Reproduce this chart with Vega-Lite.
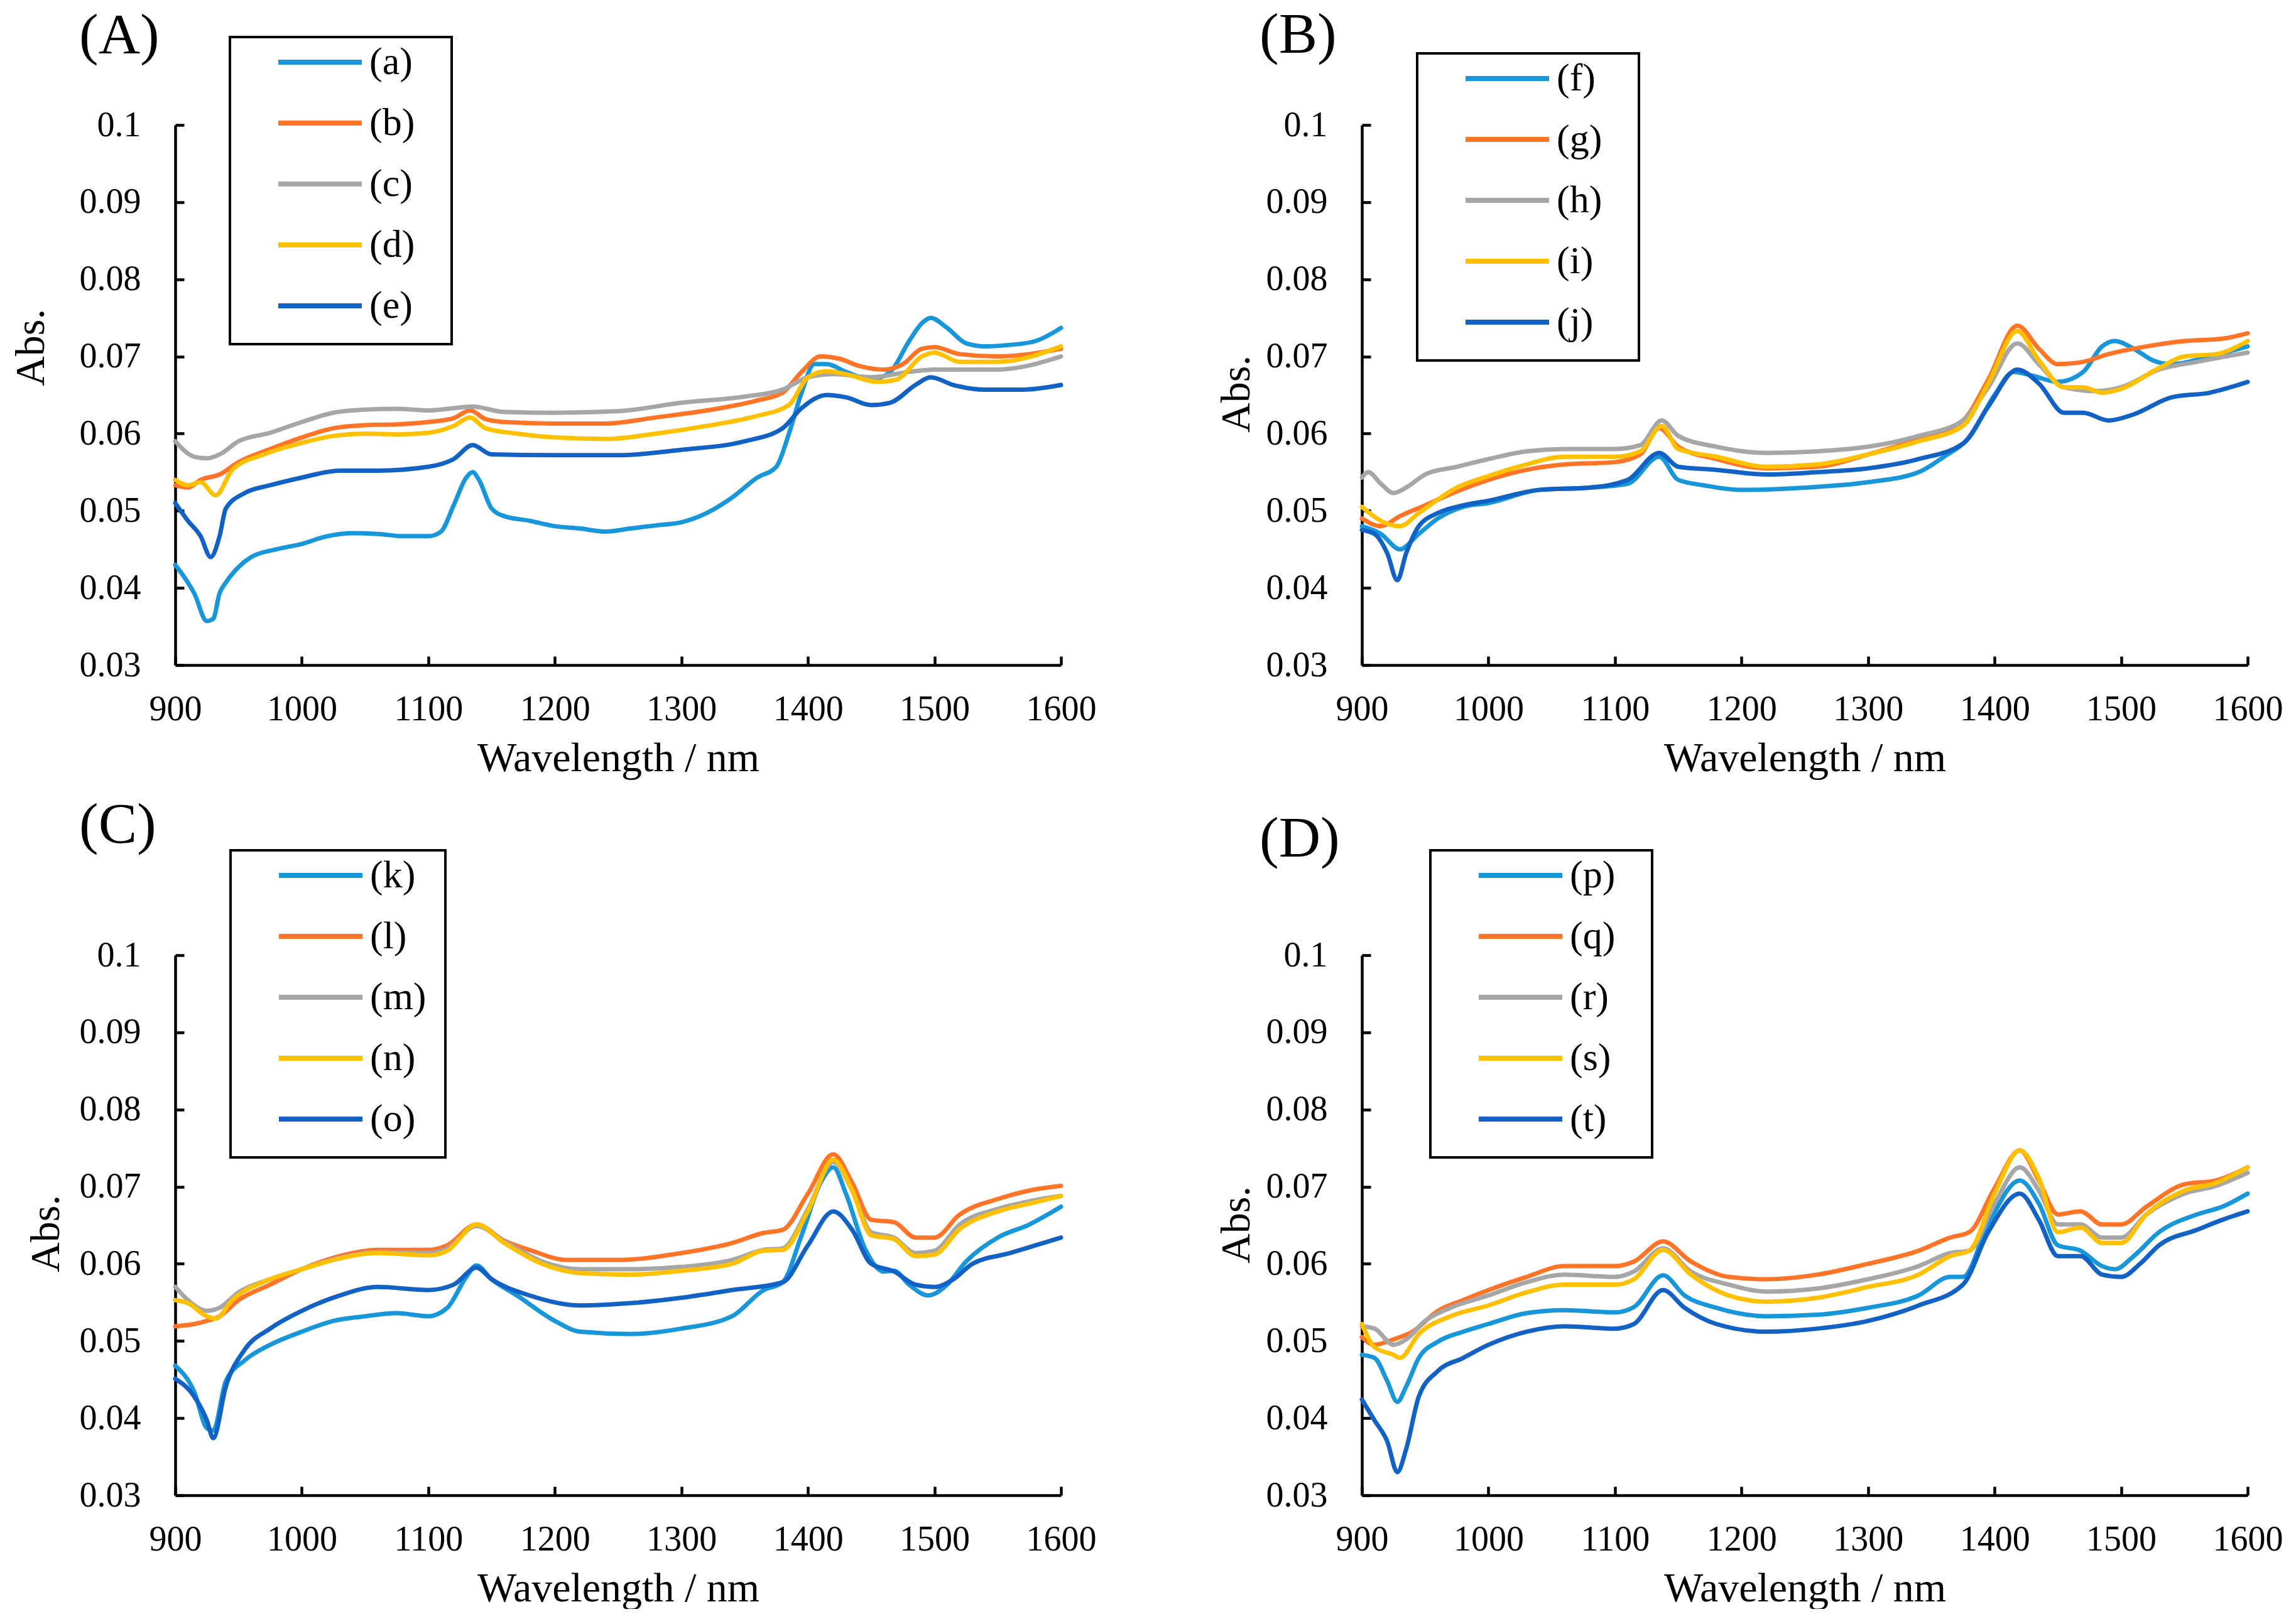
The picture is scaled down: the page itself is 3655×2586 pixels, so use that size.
{
"$schema":"https://vega.github.io/schema/vega-lite/v6.json",
"background":"white",
"padding":{"left":16,"top":10,"right":0,"bottom":0},
"autosize":{"type":"pad"},
"columns":2,
"spacing":{"row":462,"column":479},
"bounds":"flush",
"resolve":{"scale":{"color":"independent","x":"independent","y":"independent"},"legend":{"color":"independent"}},
"datasets":{
"A":[
{"s":"(a)","w":900,"v":0.043},{"s":"(a)","w":915,"v":0.0393},{"s":"(a)","w":925,"v":0.0357},{"s":"(a)","w":930,"v":0.036},{"s":"(a)","w":935,"v":0.0393},{"s":"(a)","w":940,"v":0.0407},{"s":"(a)","w":950,"v":0.0427},{"s":"(a)","w":960,"v":0.044},{"s":"(a)","w":980,"v":0.045},{"s":"(a)","w":1000,"v":0.0457},{"s":"(a)","w":1020,"v":0.0467},{"s":"(a)","w":1040,"v":0.0471},{"s":"(a)","w":1060,"v":0.047},{"s":"(a)","w":1080,"v":0.0467},{"s":"(a)","w":1100,"v":0.0467},{"s":"(a)","w":1110,"v":0.0473},{"s":"(a)","w":1120,"v":0.0507},{"s":"(a)","w":1130,"v":0.0543},{"s":"(a)","w":1135,"v":0.055},{"s":"(a)","w":1140,"v":0.054},{"s":"(a)","w":1150,"v":0.0503},{"s":"(a)","w":1160,"v":0.0493},{"s":"(a)","w":1180,"v":0.0487},{"s":"(a)","w":1200,"v":0.048},{"s":"(a)","w":1220,"v":0.0477},{"s":"(a)","w":1240,"v":0.0473},{"s":"(a)","w":1260,"v":0.0477},{"s":"(a)","w":1280,"v":0.0481},{"s":"(a)","w":1300,"v":0.0485},{"s":"(a)","w":1320,"v":0.0497},{"s":"(a)","w":1340,"v":0.0517},{"s":"(a)","w":1360,"v":0.0543},{"s":"(a)","w":1375,"v":0.0557},{"s":"(a)","w":1385,"v":0.06},{"s":"(a)","w":1395,"v":0.0653},{"s":"(a)","w":1405,"v":0.069},{"s":"(a)","w":1415,"v":0.069},{"s":"(a)","w":1430,"v":0.068},{"s":"(a)","w":1450,"v":0.067},{"s":"(a)","w":1465,"v":0.068},{"s":"(a)","w":1480,"v":0.072},{"s":"(a)","w":1490,"v":0.0743},{"s":"(a)","w":1497,"v":0.075},{"s":"(a)","w":1510,"v":0.0737},{"s":"(a)","w":1525,"v":0.0717},{"s":"(a)","w":1540,"v":0.0713},{"s":"(a)","w":1560,"v":0.0715},{"s":"(a)","w":1580,"v":0.072},{"s":"(a)","w":1600,"v":0.0737},
{"s":"(b)","w":900,"v":0.0533},{"s":"(b)","w":910,"v":0.053},{"s":"(b)","w":920,"v":0.054},{"s":"(b)","w":935,"v":0.0547},{"s":"(b)","w":950,"v":0.0563},{"s":"(b)","w":975,"v":0.058},{"s":"(b)","w":1000,"v":0.0595},{"s":"(b)","w":1025,"v":0.0607},{"s":"(b)","w":1050,"v":0.0611},{"s":"(b)","w":1075,"v":0.0612},{"s":"(b)","w":1100,"v":0.0615},{"s":"(b)","w":1120,"v":0.062},{"s":"(b)","w":1133,"v":0.063},{"s":"(b)","w":1145,"v":0.0619},{"s":"(b)","w":1160,"v":0.0615},{"s":"(b)","w":1200,"v":0.0613},{"s":"(b)","w":1240,"v":0.0613},{"s":"(b)","w":1280,"v":0.0621},{"s":"(b)","w":1320,"v":0.063},{"s":"(b)","w":1360,"v":0.0643},{"s":"(b)","w":1380,"v":0.0653},{"s":"(b)","w":1395,"v":0.068},{"s":"(b)","w":1410,"v":0.07},{"s":"(b)","w":1425,"v":0.0697},{"s":"(b)","w":1440,"v":0.0688},{"s":"(b)","w":1460,"v":0.0683},{"s":"(b)","w":1475,"v":0.069},{"s":"(b)","w":1490,"v":0.071},{"s":"(b)","w":1500,"v":0.0712},{"s":"(b)","w":1520,"v":0.0703},{"s":"(b)","w":1550,"v":0.07},{"s":"(b)","w":1575,"v":0.0703},{"s":"(b)","w":1600,"v":0.071},
{"s":"(c)","w":900,"v":0.059},{"s":"(c)","w":915,"v":0.057},{"s":"(c)","w":925,"v":0.0568},{"s":"(c)","w":935,"v":0.0573},{"s":"(c)","w":950,"v":0.059},{"s":"(c)","w":975,"v":0.0601},{"s":"(c)","w":1000,"v":0.0615},{"s":"(c)","w":1025,"v":0.0627},{"s":"(c)","w":1050,"v":0.0631},{"s":"(c)","w":1075,"v":0.0632},{"s":"(c)","w":1100,"v":0.063},{"s":"(c)","w":1135,"v":0.0635},{"s":"(c)","w":1160,"v":0.0628},{"s":"(c)","w":1200,"v":0.0627},{"s":"(c)","w":1250,"v":0.0629},{"s":"(c)","w":1300,"v":0.064},{"s":"(c)","w":1350,"v":0.0648},{"s":"(c)","w":1380,"v":0.0657},{"s":"(c)","w":1400,"v":0.0673},{"s":"(c)","w":1420,"v":0.0677},{"s":"(c)","w":1450,"v":0.0673},{"s":"(c)","w":1480,"v":0.068},{"s":"(c)","w":1500,"v":0.0683},{"s":"(c)","w":1550,"v":0.0683},{"s":"(c)","w":1600,"v":0.07},
{"s":"(d)","w":900,"v":0.054},{"s":"(d)","w":910,"v":0.0533},{"s":"(d)","w":920,"v":0.0537},{"s":"(d)","w":932,"v":0.052},{"s":"(d)","w":945,"v":0.0553},{"s":"(d)","w":970,"v":0.0573},{"s":"(d)","w":1000,"v":0.0588},{"s":"(d)","w":1025,"v":0.0597},{"s":"(d)","w":1050,"v":0.06},{"s":"(d)","w":1075,"v":0.0599},{"s":"(d)","w":1100,"v":0.0601},{"s":"(d)","w":1120,"v":0.061},{"s":"(d)","w":1133,"v":0.0621},{"s":"(d)","w":1145,"v":0.0607},{"s":"(d)","w":1170,"v":0.06},{"s":"(d)","w":1200,"v":0.0595},{"s":"(d)","w":1240,"v":0.0593},{"s":"(d)","w":1280,"v":0.06},{"s":"(d)","w":1320,"v":0.061},{"s":"(d)","w":1360,"v":0.0623},{"s":"(d)","w":1385,"v":0.0637},{"s":"(d)","w":1400,"v":0.0673},{"s":"(d)","w":1415,"v":0.0681},{"s":"(d)","w":1430,"v":0.0677},{"s":"(d)","w":1455,"v":0.0667},{"s":"(d)","w":1470,"v":0.067},{"s":"(d)","w":1490,"v":0.07},{"s":"(d)","w":1500,"v":0.0705},{"s":"(d)","w":1520,"v":0.0693},{"s":"(d)","w":1550,"v":0.0693},{"s":"(d)","w":1600,"v":0.0713},
{"s":"(e)","w":900,"v":0.051},{"s":"(e)","w":910,"v":0.0487},{"s":"(e)","w":920,"v":0.0467},{"s":"(e)","w":928,"v":0.044},{"s":"(e)","w":935,"v":0.0467},{"s":"(e)","w":940,"v":0.0503},{"s":"(e)","w":955,"v":0.0523},{"s":"(e)","w":975,"v":0.0533},{"s":"(e)","w":1000,"v":0.0543},{"s":"(e)","w":1030,"v":0.0552},{"s":"(e)","w":1060,"v":0.0552},{"s":"(e)","w":1100,"v":0.0557},{"s":"(e)","w":1120,"v":0.0567},{"s":"(e)","w":1135,"v":0.0585},{"s":"(e)","w":1150,"v":0.0573},{"s":"(e)","w":1200,"v":0.0572},{"s":"(e)","w":1250,"v":0.0572},{"s":"(e)","w":1300,"v":0.0579},{"s":"(e)","w":1350,"v":0.059},{"s":"(e)","w":1380,"v":0.0607},{"s":"(e)","w":1395,"v":0.0633},{"s":"(e)","w":1415,"v":0.065},{"s":"(e)","w":1430,"v":0.0647},{"s":"(e)","w":1450,"v":0.0637},{"s":"(e)","w":1465,"v":0.064},{"s":"(e)","w":1485,"v":0.0663},{"s":"(e)","w":1497,"v":0.0673},{"s":"(e)","w":1515,"v":0.0663},{"s":"(e)","w":1540,"v":0.0657},{"s":"(e)","w":1570,"v":0.0657},{"s":"(e)","w":1600,"v":0.0663}
],
"B":[
{"s":"(f)","w":900,"v":0.048},{"s":"(f)","w":915,"v":0.047},{"s":"(f)","w":930,"v":0.045},{"s":"(f)","w":945,"v":0.047},{"s":"(f)","w":960,"v":0.049},{"s":"(f)","w":980,"v":0.0505},{"s":"(f)","w":1000,"v":0.051},{"s":"(f)","w":1040,"v":0.0527},{"s":"(f)","w":1080,"v":0.053},{"s":"(f)","w":1110,"v":0.0535},{"s":"(f)","w":1135,"v":0.057},{"s":"(f)","w":1150,"v":0.054},{"s":"(f)","w":1170,"v":0.0533},{"s":"(f)","w":1200,"v":0.0527},{"s":"(f)","w":1250,"v":0.053},{"s":"(f)","w":1300,"v":0.0537},{"s":"(f)","w":1340,"v":0.055},{"s":"(f)","w":1360,"v":0.057},{"s":"(f)","w":1380,"v":0.0595},{"s":"(f)","w":1400,"v":0.065},{"s":"(f)","w":1415,"v":0.068},{"s":"(f)","w":1430,"v":0.0675},{"s":"(f)","w":1450,"v":0.0667},{"s":"(f)","w":1470,"v":0.068},{"s":"(f)","w":1485,"v":0.0713},{"s":"(f)","w":1495,"v":0.072},{"s":"(f)","w":1510,"v":0.071},{"s":"(f)","w":1525,"v":0.0695},{"s":"(f)","w":1540,"v":0.069},{"s":"(f)","w":1570,"v":0.07},{"s":"(f)","w":1600,"v":0.0713},
{"s":"(g)","w":900,"v":0.049},{"s":"(g)","w":915,"v":0.048},{"s":"(g)","w":930,"v":0.0493},{"s":"(g)","w":950,"v":0.0507},{"s":"(g)","w":975,"v":0.0525},{"s":"(g)","w":1000,"v":0.054},{"s":"(g)","w":1030,"v":0.0553},{"s":"(g)","w":1060,"v":0.056},{"s":"(g)","w":1100,"v":0.0563},{"s":"(g)","w":1120,"v":0.0573},{"s":"(g)","w":1135,"v":0.0607},{"s":"(g)","w":1150,"v":0.0583},{"s":"(g)","w":1180,"v":0.0567},{"s":"(g)","w":1220,"v":0.0555},{"s":"(g)","w":1260,"v":0.0557},{"s":"(g)","w":1300,"v":0.0573},{"s":"(g)","w":1340,"v":0.0593},{"s":"(g)","w":1375,"v":0.0617},{"s":"(g)","w":1395,"v":0.067},{"s":"(g)","w":1418,"v":0.074},{"s":"(g)","w":1435,"v":0.071},{"s":"(g)","w":1450,"v":0.069},{"s":"(g)","w":1470,"v":0.0693},{"s":"(g)","w":1490,"v":0.0703},{"s":"(g)","w":1520,"v":0.0713},{"s":"(g)","w":1550,"v":0.072},{"s":"(g)","w":1580,"v":0.0723},{"s":"(g)","w":1600,"v":0.073},
{"s":"(h)","w":900,"v":0.0543},{"s":"(h)","w":905,"v":0.055},{"s":"(h)","w":915,"v":0.0535},{"s":"(h)","w":925,"v":0.0523},{"s":"(h)","w":935,"v":0.053},{"s":"(h)","w":950,"v":0.0547},{"s":"(h)","w":975,"v":0.0557},{"s":"(h)","w":1000,"v":0.0567},{"s":"(h)","w":1030,"v":0.0577},{"s":"(h)","w":1060,"v":0.058},{"s":"(h)","w":1100,"v":0.058},{"s":"(h)","w":1120,"v":0.0585},{"s":"(h)","w":1137,"v":0.0617},{"s":"(h)","w":1150,"v":0.0597},{"s":"(h)","w":1180,"v":0.0583},{"s":"(h)","w":1220,"v":0.0575},{"s":"(h)","w":1260,"v":0.0577},{"s":"(h)","w":1300,"v":0.0583},{"s":"(h)","w":1340,"v":0.0597},{"s":"(h)","w":1375,"v":0.0617},{"s":"(h)","w":1395,"v":0.066},{"s":"(h)","w":1418,"v":0.0717},{"s":"(h)","w":1435,"v":0.069},{"s":"(h)","w":1455,"v":0.066},{"s":"(h)","w":1480,"v":0.0655},{"s":"(h)","w":1500,"v":0.066},{"s":"(h)","w":1530,"v":0.0683},{"s":"(h)","w":1560,"v":0.0693},{"s":"(h)","w":1600,"v":0.0705},
{"s":"(i)","w":900,"v":0.0505},{"s":"(i)","w":915,"v":0.0487},{"s":"(i)","w":930,"v":0.048},{"s":"(i)","w":945,"v":0.0497},{"s":"(i)","w":975,"v":0.053},{"s":"(i)","w":1000,"v":0.0545},{"s":"(i)","w":1030,"v":0.056},{"s":"(i)","w":1060,"v":0.057},{"s":"(i)","w":1100,"v":0.057},{"s":"(i)","w":1120,"v":0.0577},{"s":"(i)","w":1137,"v":0.061},{"s":"(i)","w":1150,"v":0.058},{"s":"(i)","w":1180,"v":0.057},{"s":"(i)","w":1220,"v":0.0557},{"s":"(i)","w":1260,"v":0.056},{"s":"(i)","w":1300,"v":0.0573},{"s":"(i)","w":1340,"v":0.059},{"s":"(i)","w":1375,"v":0.061},{"s":"(i)","w":1395,"v":0.0665},{"s":"(i)","w":1418,"v":0.0733},{"s":"(i)","w":1435,"v":0.0695},{"s":"(i)","w":1455,"v":0.066},{"s":"(i)","w":1470,"v":0.066},{"s":"(i)","w":1485,"v":0.0653},{"s":"(i)","w":1500,"v":0.0658},{"s":"(i)","w":1530,"v":0.0685},{"s":"(i)","w":1550,"v":0.07},{"s":"(i)","w":1575,"v":0.0703},{"s":"(i)","w":1600,"v":0.072},
{"s":"(j)","w":900,"v":0.0475},{"s":"(j)","w":910,"v":0.047},{"s":"(j)","w":920,"v":0.0445},{"s":"(j)","w":928,"v":0.041},{"s":"(j)","w":935,"v":0.0445},{"s":"(j)","w":945,"v":0.048},{"s":"(j)","w":960,"v":0.0497},{"s":"(j)","w":980,"v":0.0507},{"s":"(j)","w":1000,"v":0.0513},{"s":"(j)","w":1040,"v":0.0527},{"s":"(j)","w":1080,"v":0.053},{"s":"(j)","w":1110,"v":0.054},{"s":"(j)","w":1135,"v":0.0575},{"s":"(j)","w":1150,"v":0.0557},{"s":"(j)","w":1180,"v":0.0553},{"s":"(j)","w":1220,"v":0.0547},{"s":"(j)","w":1260,"v":0.055},{"s":"(j)","w":1300,"v":0.0555},{"s":"(j)","w":1340,"v":0.0567},{"s":"(j)","w":1375,"v":0.0587},{"s":"(j)","w":1395,"v":0.0635},{"s":"(j)","w":1418,"v":0.0683},{"s":"(j)","w":1435,"v":0.0665},{"s":"(j)","w":1455,"v":0.0627},{"s":"(j)","w":1470,"v":0.0627},{"s":"(j)","w":1490,"v":0.0617},{"s":"(j)","w":1510,"v":0.0625},{"s":"(j)","w":1540,"v":0.0647},{"s":"(j)","w":1570,"v":0.0653},{"s":"(j)","w":1600,"v":0.0667}
],
"C":[
{"s":"(k)","w":900,"v":0.0468},{"s":"(k)","w":915,"v":0.0434},{"s":"(k)","w":925,"v":0.0387},{"s":"(k)","w":930,"v":0.0384},{"s":"(k)","w":940,"v":0.0448},{"s":"(k)","w":955,"v":0.0475},{"s":"(k)","w":975,"v":0.0495},{"s":"(k)","w":1000,"v":0.0512},{"s":"(k)","w":1025,"v":0.0526},{"s":"(k)","w":1050,"v":0.0532},{"s":"(k)","w":1075,"v":0.0536},{"s":"(k)","w":1100,"v":0.0532},{"s":"(k)","w":1115,"v":0.0543},{"s":"(k)","w":1130,"v":0.0583},{"s":"(k)","w":1138,"v":0.0598},{"s":"(k)","w":1150,"v":0.058},{"s":"(k)","w":1170,"v":0.0559},{"s":"(k)","w":1200,"v":0.0526},{"s":"(k)","w":1220,"v":0.0512},{"s":"(k)","w":1260,"v":0.0509},{"s":"(k)","w":1300,"v":0.0516},{"s":"(k)","w":1340,"v":0.0532},{"s":"(k)","w":1365,"v":0.0566},{"s":"(k)","w":1380,"v":0.0576},{"s":"(k)","w":1395,"v":0.0637},{"s":"(k)","w":1410,"v":0.0705},{"s":"(k)","w":1420,"v":0.0725},{"s":"(k)","w":1430,"v":0.0691},{"s":"(k)","w":1445,"v":0.062},{"s":"(k)","w":1460,"v":0.059},{"s":"(k)","w":1468,"v":0.0591},{"s":"(k)","w":1480,"v":0.0573},{"s":"(k)","w":1495,"v":0.0559},{"s":"(k)","w":1510,"v":0.0573},{"s":"(k)","w":1525,"v":0.0603},{"s":"(k)","w":1550,"v":0.0634},{"s":"(k)","w":1575,"v":0.0651},{"s":"(k)","w":1600,"v":0.0674},
{"s":"(l)","w":900,"v":0.0519},{"s":"(l)","w":915,"v":0.0522},{"s":"(l)","w":925,"v":0.0526},{"s":"(l)","w":935,"v":0.0532},{"s":"(l)","w":950,"v":0.0553},{"s":"(l)","w":975,"v":0.0573},{"s":"(l)","w":1000,"v":0.0593},{"s":"(l)","w":1030,"v":0.061},{"s":"(l)","w":1060,"v":0.0618},{"s":"(l)","w":1100,"v":0.0618},{"s":"(l)","w":1115,"v":0.0624},{"s":"(l)","w":1138,"v":0.0651},{"s":"(l)","w":1160,"v":0.063},{"s":"(l)","w":1180,"v":0.0618},{"s":"(l)","w":1210,"v":0.0605},{"s":"(l)","w":1250,"v":0.0605},{"s":"(l)","w":1300,"v":0.0614},{"s":"(l)","w":1340,"v":0.0627},{"s":"(l)","w":1365,"v":0.064},{"s":"(l)","w":1380,"v":0.0644},{"s":"(l)","w":1400,"v":0.0691},{"s":"(l)","w":1420,"v":0.0742},{"s":"(l)","w":1435,"v":0.0705},{"s":"(l)","w":1450,"v":0.0657},{"s":"(l)","w":1468,"v":0.0654},{"s":"(l)","w":1485,"v":0.0634},{"s":"(l)","w":1500,"v":0.0634},{"s":"(l)","w":1520,"v":0.0664},{"s":"(l)","w":1550,"v":0.0684},{"s":"(l)","w":1575,"v":0.0695},{"s":"(l)","w":1600,"v":0.0701},
{"s":"(m)","w":900,"v":0.057},{"s":"(m)","w":910,"v":0.0553},{"s":"(m)","w":925,"v":0.0539},{"s":"(m)","w":935,"v":0.0543},{"s":"(m)","w":950,"v":0.0563},{"s":"(m)","w":975,"v":0.058},{"s":"(m)","w":1000,"v":0.0593},{"s":"(m)","w":1030,"v":0.0608},{"s":"(m)","w":1060,"v":0.0615},{"s":"(m)","w":1100,"v":0.0614},{"s":"(m)","w":1115,"v":0.062},{"s":"(m)","w":1138,"v":0.0649},{"s":"(m)","w":1160,"v":0.0629},{"s":"(m)","w":1190,"v":0.0603},{"s":"(m)","w":1220,"v":0.0593},{"s":"(m)","w":1260,"v":0.0593},{"s":"(m)","w":1300,"v":0.0596},{"s":"(m)","w":1340,"v":0.0605},{"s":"(m)","w":1365,"v":0.0618},{"s":"(m)","w":1380,"v":0.062},{"s":"(m)","w":1400,"v":0.0671},{"s":"(m)","w":1420,"v":0.0732},{"s":"(m)","w":1435,"v":0.0695},{"s":"(m)","w":1450,"v":0.0641},{"s":"(m)","w":1468,"v":0.0634},{"s":"(m)","w":1485,"v":0.0614},{"s":"(m)","w":1500,"v":0.0617},{"s":"(m)","w":1520,"v":0.0651},{"s":"(m)","w":1550,"v":0.0671},{"s":"(m)","w":1575,"v":0.0681},{"s":"(m)","w":1600,"v":0.0688},
{"s":"(n)","w":900,"v":0.0553},{"s":"(n)","w":910,"v":0.0549},{"s":"(n)","w":925,"v":0.0532},{"s":"(n)","w":932,"v":0.0529},{"s":"(n)","w":945,"v":0.0553},{"s":"(n)","w":975,"v":0.058},{"s":"(n)","w":1000,"v":0.0593},{"s":"(n)","w":1030,"v":0.0607},{"s":"(n)","w":1060,"v":0.0614},{"s":"(n)","w":1100,"v":0.0611},{"s":"(n)","w":1115,"v":0.0617},{"s":"(n)","w":1138,"v":0.0651},{"s":"(n)","w":1160,"v":0.0627},{"s":"(n)","w":1190,"v":0.06},{"s":"(n)","w":1220,"v":0.0588},{"s":"(n)","w":1260,"v":0.0586},{"s":"(n)","w":1300,"v":0.0591},{"s":"(n)","w":1340,"v":0.06},{"s":"(n)","w":1365,"v":0.0617},{"s":"(n)","w":1380,"v":0.0618},{"s":"(n)","w":1400,"v":0.0668},{"s":"(n)","w":1420,"v":0.0735},{"s":"(n)","w":1435,"v":0.0695},{"s":"(n)","w":1450,"v":0.0637},{"s":"(n)","w":1468,"v":0.0632},{"s":"(n)","w":1485,"v":0.061},{"s":"(n)","w":1500,"v":0.0612},{"s":"(n)","w":1520,"v":0.0645},{"s":"(n)","w":1550,"v":0.0668},{"s":"(n)","w":1575,"v":0.0678},{"s":"(n)","w":1600,"v":0.0688},
{"s":"(o)","w":900,"v":0.0451},{"s":"(o)","w":915,"v":0.0428},{"s":"(o)","w":925,"v":0.0397},{"s":"(o)","w":930,"v":0.0374},{"s":"(o)","w":940,"v":0.0441},{"s":"(o)","w":955,"v":0.0489},{"s":"(o)","w":975,"v":0.0516},{"s":"(o)","w":1000,"v":0.0539},{"s":"(o)","w":1030,"v":0.0559},{"s":"(o)","w":1060,"v":0.057},{"s":"(o)","w":1100,"v":0.0566},{"s":"(o)","w":1120,"v":0.0573},{"s":"(o)","w":1138,"v":0.0595},{"s":"(o)","w":1150,"v":0.058},{"s":"(o)","w":1180,"v":0.0559},{"s":"(o)","w":1220,"v":0.0546},{"s":"(o)","w":1260,"v":0.0549},{"s":"(o)","w":1300,"v":0.0556},{"s":"(o)","w":1340,"v":0.0566},{"s":"(o)","w":1380,"v":0.0576},{"s":"(o)","w":1400,"v":0.0624},{"s":"(o)","w":1420,"v":0.0668},{"s":"(o)","w":1435,"v":0.0644},{"s":"(o)","w":1450,"v":0.06},{"s":"(o)","w":1468,"v":0.059},{"s":"(o)","w":1485,"v":0.0573},{"s":"(o)","w":1500,"v":0.057},{"s":"(o)","w":1515,"v":0.058},{"s":"(o)","w":1530,"v":0.06},{"s":"(o)","w":1560,"v":0.0614},{"s":"(o)","w":1580,"v":0.0624},{"s":"(o)","w":1600,"v":0.0634}
],
"D":[
{"s":"(p)","w":900,"v":0.0482},{"s":"(p)","w":910,"v":0.0478},{"s":"(p)","w":920,"v":0.0448},{"s":"(p)","w":928,"v":0.0421},{"s":"(p)","w":935,"v":0.0441},{"s":"(p)","w":945,"v":0.0478},{"s":"(p)","w":960,"v":0.0499},{"s":"(p)","w":980,"v":0.0512},{"s":"(p)","w":1000,"v":0.0522},{"s":"(p)","w":1030,"v":0.0536},{"s":"(p)","w":1060,"v":0.054},{"s":"(p)","w":1100,"v":0.0537},{"s":"(p)","w":1115,"v":0.0544},{"s":"(p)","w":1138,"v":0.0585},{"s":"(p)","w":1155,"v":0.0559},{"s":"(p)","w":1180,"v":0.0543},{"s":"(p)","w":1220,"v":0.0532},{"s":"(p)","w":1260,"v":0.0534},{"s":"(p)","w":1300,"v":0.0543},{"s":"(p)","w":1340,"v":0.0559},{"s":"(p)","w":1365,"v":0.0583},{"s":"(p)","w":1375,"v":0.0583},{"s":"(p)","w":1395,"v":0.0651},{"s":"(p)","w":1420,"v":0.0708},{"s":"(p)","w":1435,"v":0.0678},{"s":"(p)","w":1450,"v":0.0624},{"s":"(p)","w":1468,"v":0.0617},{"s":"(p)","w":1485,"v":0.0597},{"s":"(p)","w":1495,"v":0.0593},{"s":"(p)","w":1510,"v":0.061},{"s":"(p)","w":1530,"v":0.0641},{"s":"(p)","w":1560,"v":0.0664},{"s":"(p)","w":1580,"v":0.0674},{"s":"(p)","w":1600,"v":0.0691},
{"s":"(q)","w":900,"v":0.0505},{"s":"(q)","w":910,"v":0.0495},{"s":"(q)","w":925,"v":0.0502},{"s":"(q)","w":940,"v":0.0512},{"s":"(q)","w":960,"v":0.0539},{"s":"(q)","w":980,"v":0.0553},{"s":"(q)","w":1000,"v":0.0566},{"s":"(q)","w":1030,"v":0.0583},{"s":"(q)","w":1060,"v":0.0597},{"s":"(q)","w":1100,"v":0.0597},{"s":"(q)","w":1115,"v":0.0603},{"s":"(q)","w":1138,"v":0.0629},{"s":"(q)","w":1160,"v":0.0603},{"s":"(q)","w":1190,"v":0.0583},{"s":"(q)","w":1220,"v":0.058},{"s":"(q)","w":1260,"v":0.0586},{"s":"(q)","w":1300,"v":0.06},{"s":"(q)","w":1340,"v":0.0617},{"s":"(q)","w":1365,"v":0.0634},{"s":"(q)","w":1380,"v":0.0641},{"s":"(q)","w":1400,"v":0.0698},{"s":"(q)","w":1420,"v":0.0747},{"s":"(q)","w":1435,"v":0.0708},{"s":"(q)","w":1450,"v":0.0664},{"s":"(q)","w":1468,"v":0.0668},{"s":"(q)","w":1485,"v":0.0651},{"s":"(q)","w":1500,"v":0.0651},{"s":"(q)","w":1520,"v":0.0674},{"s":"(q)","w":1550,"v":0.0703},{"s":"(q)","w":1575,"v":0.0708},{"s":"(q)","w":1600,"v":0.0725},
{"s":"(r)","w":900,"v":0.0519},{"s":"(r)","w":910,"v":0.0516},{"s":"(r)","w":925,"v":0.0495},{"s":"(r)","w":935,"v":0.0502},{"s":"(r)","w":950,"v":0.0526},{"s":"(r)","w":970,"v":0.0543},{"s":"(r)","w":1000,"v":0.0559},{"s":"(r)","w":1030,"v":0.0576},{"s":"(r)","w":1060,"v":0.0586},{"s":"(r)","w":1100,"v":0.0583},{"s":"(r)","w":1115,"v":0.059},{"s":"(r)","w":1138,"v":0.062},{"s":"(r)","w":1160,"v":0.059},{"s":"(r)","w":1190,"v":0.0573},{"s":"(r)","w":1220,"v":0.0564},{"s":"(r)","w":1260,"v":0.0568},{"s":"(r)","w":1300,"v":0.058},{"s":"(r)","w":1340,"v":0.0597},{"s":"(r)","w":1365,"v":0.0614},{"s":"(r)","w":1380,"v":0.0617},{"s":"(r)","w":1400,"v":0.0678},{"s":"(r)","w":1420,"v":0.0725},{"s":"(r)","w":1435,"v":0.0695},{"s":"(r)","w":1450,"v":0.0651},{"s":"(r)","w":1468,"v":0.0651},{"s":"(r)","w":1485,"v":0.0634},{"s":"(r)","w":1500,"v":0.0634},{"s":"(r)","w":1520,"v":0.0664},{"s":"(r)","w":1550,"v":0.0691},{"s":"(r)","w":1575,"v":0.0701},{"s":"(r)","w":1600,"v":0.0718},
{"s":"(s)","w":900,"v":0.0522},{"s":"(s)","w":910,"v":0.0492},{"s":"(s)","w":925,"v":0.0482},{"s":"(s)","w":930,"v":0.0478},{"s":"(s)","w":945,"v":0.0509},{"s":"(s)","w":970,"v":0.0532},{"s":"(s)","w":1000,"v":0.0546},{"s":"(s)","w":1030,"v":0.0563},{"s":"(s)","w":1060,"v":0.0573},{"s":"(s)","w":1100,"v":0.0573},{"s":"(s)","w":1115,"v":0.058},{"s":"(s)","w":1138,"v":0.0618},{"s":"(s)","w":1160,"v":0.0586},{"s":"(s)","w":1190,"v":0.0559},{"s":"(s)","w":1220,"v":0.0551},{"s":"(s)","w":1260,"v":0.0556},{"s":"(s)","w":1300,"v":0.057},{"s":"(s)","w":1340,"v":0.0586},{"s":"(s)","w":1365,"v":0.061},{"s":"(s)","w":1380,"v":0.0617},{"s":"(s)","w":1400,"v":0.0691},{"s":"(s)","w":1420,"v":0.0747},{"s":"(s)","w":1435,"v":0.0711},{"s":"(s)","w":1450,"v":0.0641},{"s":"(s)","w":1468,"v":0.0647},{"s":"(s)","w":1485,"v":0.0627},{"s":"(s)","w":1500,"v":0.0627},{"s":"(s)","w":1520,"v":0.0664},{"s":"(s)","w":1550,"v":0.0695},{"s":"(s)","w":1575,"v":0.0705},{"s":"(s)","w":1600,"v":0.0725},
{"s":"(t)","w":900,"v":0.0424},{"s":"(t)","w":910,"v":0.0397},{"s":"(t)","w":920,"v":0.037},{"s":"(t)","w":928,"v":0.033},{"s":"(t)","w":935,"v":0.036},{"s":"(t)","w":945,"v":0.0428},{"s":"(t)","w":960,"v":0.0461},{"s":"(t)","w":980,"v":0.0478},{"s":"(t)","w":1000,"v":0.0495},{"s":"(t)","w":1030,"v":0.0512},{"s":"(t)","w":1060,"v":0.0519},{"s":"(t)","w":1100,"v":0.0516},{"s":"(t)","w":1115,"v":0.0522},{"s":"(t)","w":1138,"v":0.0566},{"s":"(t)","w":1155,"v":0.0543},{"s":"(t)","w":1180,"v":0.0522},{"s":"(t)","w":1220,"v":0.0512},{"s":"(t)","w":1260,"v":0.0516},{"s":"(t)","w":1300,"v":0.0526},{"s":"(t)","w":1340,"v":0.0546},{"s":"(t)","w":1375,"v":0.0573},{"s":"(t)","w":1395,"v":0.0641},{"s":"(t)","w":1420,"v":0.0691},{"s":"(t)","w":1435,"v":0.0657},{"s":"(t)","w":1450,"v":0.061},{"s":"(t)","w":1468,"v":0.061},{"s":"(t)","w":1485,"v":0.0586},{"s":"(t)","w":1500,"v":0.0583},{"s":"(t)","w":1515,"v":0.06},{"s":"(t)","w":1530,"v":0.0624},{"s":"(t)","w":1560,"v":0.0644},{"s":"(t)","w":1580,"v":0.0657},{"s":"(t)","w":1600,"v":0.0668}
]
},
"concat":[
{"width":1410,"height":860,"data":{"name":"A"},
 "title":{"text":"(A)","dx":-153,"offset":-47},
 "mark":{"type":"line","strokeWidth":7,"interpolate":"monotone","strokeJoin":"round","strokeCap":"round"},
 "encoding":{
  "x":{"field":"w","type":"quantitative","scale":{"domain":[900,1600],"nice":false,"zero":false},"axis":{"values":[900,1000,1100,1200,1300,1400,1500,1600],"format":"d","title":"Wavelength / nm","titleY":168}},
  "y":{"field":"v","type":"quantitative","scale":{"domain":[0.03,0.1],"nice":false,"zero":false},"axis":{"values":[0.03,0.04,0.05,0.06,0.07,0.08,0.09,0.1],"format":".2~f","title":"Abs.","titleX":-210,"titleY":354}},
  "color":{"field":"s","type":"nominal","scale":{"domain":["(a)","(b)","(c)","(d)","(e)"],"range":["#1796DA","#FF7427","#A6A6A6","#FFC000","#1262C6"]},"legend":{"title":null,"legendX":87,"legendY":-140,"labelExpr":"datum.label + '\u00a0\u2009\u200b'"}}
 }},
{"width":1410,"height":860,"data":{"name":"B"},
 "title":{"text":"(B)","dx":-163,"offset":-20},
 "mark":{"type":"line","strokeWidth":7,"interpolate":"monotone","strokeJoin":"round","strokeCap":"round"},
 "encoding":{
  "x":{"field":"w","type":"quantitative","scale":{"domain":[900,1600],"nice":false,"zero":false},"axis":{"values":[900,1000,1100,1200,1300,1400,1500,1600],"format":"d","title":"Wavelength / nm","titleY":168}},
  "y":{"field":"v","type":"quantitative","scale":{"domain":[0.03,0.1],"nice":false,"zero":false},"axis":{"values":[0.03,0.04,0.05,0.06,0.07,0.08,0.09,0.1],"format":".2~f","title":"Abs.","titleX":-180,"titleY":428}},
  "color":{"field":"s","type":"nominal","scale":{"domain":["(f)","(g)","(h)","(i)","(j)"],"range":["#1796DA","#FF7427","#A6A6A6","#FFC000","#1262C6"]},"legend":{"title":null,"legendX":88,"legendY":-114,"labelExpr":"datum.label + '\u00a0\u2009\u200b'"}}
 }},
{"width":1410,"height":860,"data":{"name":"C"},
 "title":{"text":"(C)","dx":-153,"offset":-9},
 "mark":{"type":"line","strokeWidth":7,"interpolate":"monotone","strokeJoin":"round","strokeCap":"round"},
 "encoding":{
  "x":{"field":"w","type":"quantitative","scale":{"domain":[900,1600],"nice":false,"zero":false},"axis":{"values":[900,1000,1100,1200,1300,1400,1500,1600],"format":"d","title":"Wavelength / nm","titleY":168}},
  "y":{"field":"v","type":"quantitative","scale":{"domain":[0.03,0.1],"nice":false,"zero":false},"axis":{"values":[0.03,0.04,0.05,0.06,0.07,0.08,0.09,0.1],"format":".2~f","title":"Abs.","titleX":-186,"titleY":443}},
  "color":{"field":"s","type":"nominal","scale":{"domain":["(k)","(l)","(m)","(n)","(o)"],"range":["#1796DA","#FF7427","#A6A6A6","#FFC000","#1262C6"]},"legend":{"title":null,"legendX":88,"legendY":-167}}
 }},
{"width":1410,"height":860,"data":{"name":"D"},
 "title":{"text":"(D)","dx":-163,"offset":-31},
 "mark":{"type":"line","strokeWidth":7,"interpolate":"monotone","strokeJoin":"round","strokeCap":"round"},
 "encoding":{
  "x":{"field":"w","type":"quantitative","scale":{"domain":[900,1600],"nice":false,"zero":false},"axis":{"values":[900,1000,1100,1200,1300,1400,1500,1600],"format":"d","title":"Wavelength / nm","titleY":168}},
  "y":{"field":"v","type":"quantitative","scale":{"domain":[0.03,0.1],"nice":false,"zero":false},"axis":{"values":[0.03,0.04,0.05,0.06,0.07,0.08,0.09,0.1],"format":".2~f","title":"Abs.","titleX":-180,"titleY":429}},
  "color":{"field":"s","type":"nominal","scale":{"domain":["(p)","(q)","(r)","(s)","(t)"],"range":["#1796DA","#FF7427","#A6A6A6","#FFC000","#1262C6"]},"legend":{"title":null,"legendX":109,"legendY":-167,"labelExpr":"datum.label + '\u00a0\u2009\u200b'"}}
 }}
],
"config":{
 "view":{"stroke":null},
 "font":"Liberation Serif",
 "title":{"anchor":"start","frame":"group","baseline":"alphabetic","font":"Liberation Serif","fontSize":92,"fontWeight":"normal","color":"black"},
 "axis":{"grid":false,"domainColor":"black","domainWidth":4.5,"tickColor":"black","tickWidth":4.5,"tickSize":-14,"labelFont":"Liberation Serif","labelFontSize":56,"labelColor":"black","labelFlush":false,"labelOverlap":false,"labelBound":false,"titleFont":"Liberation Serif","titleFontSize":66,"titleFontWeight":"normal","titleColor":"black","titleBaseline":"alphabetic"},
 "axisX":{"labelPadding":57},
 "axisY":{"labelPadding":69},
 "legend":{"orient":"none","symbolType":"stroke","symbolSize":17689,"symbolStrokeWidth":8,"clipHeight":20,"rowPadding":35,"padding":30,"symbolOffset":43,"labelOffset":8,"labelFont":"Liberation Serif","labelFontSize":62,"labelColor":"black","strokeColor":"black","strokeWidth":4,"fillColor":"white"}
}
}
